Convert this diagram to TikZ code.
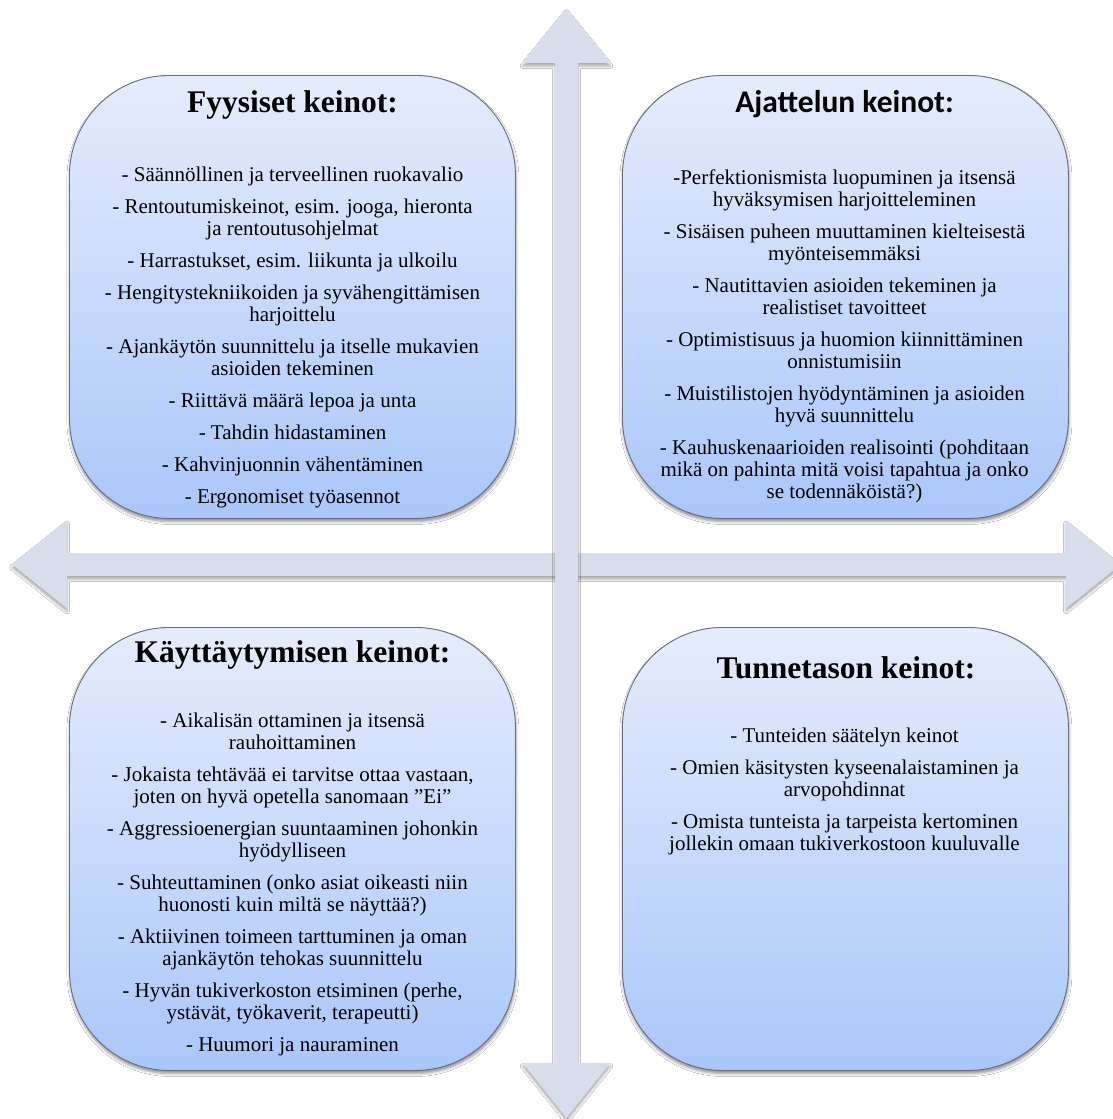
\documentclass[tikz,border=0pt]{standalone}
\usepackage{fontspec}
\setmainfont{Liberation Serif}
\newfontfamily\calibrifont{Carlito}
\usetikzlibrary{shadows,shadows.blur}
\definecolor{boxtop}{RGB}{229,236,252}
\definecolor{boxbot}{RGB}{170,199,250}
\definecolor{boxline}{RGB}{105,110,122}
\definecolor{arrowfill}{RGB}{215,221,234}
\tikzset{
  quadbox/.style={rectangle, rounded corners=100bp, minimum width=446bp, minimum height=443bp,
    anchor=north west, inner sep=0pt, draw=boxline, line width=0.9bp,
    top color=boxtop, bottom color=boxbot,
    blur shadow={shadow xshift=0.5bp, shadow yshift=-3bp, shadow blur radius=3bp, shadow opacity=45}},
  quadtitle/.style={anchor=base, inner sep=0pt, font=\fontsize{31.5bp}{34bp}\selectfont\bfseries},
  quadbody/.style={anchor=north, inner sep=0pt, align=center, font=\fontsize{21bp}{22bp}\selectfont},
  bigarrow/.style={fill=arrowfill, draw=none,
    blur shadow={shadow xshift=0bp, shadow yshift=-3bp, shadow blur radius=2.5bp, shadow opacity=35}}
}
\begin{document}
\begin{tikzpicture}[x=1bp,y=-1bp]
\useasboundingbox (0,0) rectangle (1113,1119);
\fill[white] (0,0) rectangle (1113,1119);
\clip (0,0) rectangle (1113,1119);
% arrows
\path[bigarrow] (12,564.5) -- (67,520.5) -- (67,553) -- (1066,553) -- (1066,520.5) -- (1121,564.5)
  -- (1066,608.5) -- (1066,576) -- (67,576) -- (67,608.5) -- cycle;
\path[bigarrow] (566.5,9) -- (610.5,63) -- (578,63) -- (578,1063) -- (610.5,1063) -- (566.5,1118)
  -- (522.5,1063) -- (555,1063) -- (555,63) -- (522.5,63) -- cycle;
% boxes
\node[quadbox] (bTL) at (69,75) {};
\node[quadbox] (bTR) at (622,75) {};
\node[quadbox] (bBL) at (69,627) {};
\node[quadbox] (bBR) at (622,627) {};
% titles
\node[quadtitle] (tTL) at (292.5,112) {Fyysiset keinot:};
\node[quadtitle, font=\fontsize{31.5bp}{34bp}\selectfont\calibrifont\bfseries] (tTR) at (844.5,112) {Ajattelun keinot:};
\node[quadtitle] (tBL) at (292.5,662) {Käyttäytymisen keinot:};
\node[quadtitle] (tBR) at (846,678) {Tunnetason keinot:};
% bodies
\node[quadbody] (xTL) at (292.5,165.6) {\strut- Säännöllinen ja terveellinen ruokavalio\\[10bp]
- Rentoutumiskeinot, esim. jooga, hieronta\\ ja rentoutusohjelmat\\[10bp]
- Harrastukset, esim. liikunta ja ulkoilu\\[10bp]
- Hengitystekniikoiden ja syvähengittämisen\\ harjoittelu\\[10bp]
- Ajankäytön suunnittelu ja itselle mukavien\\ asioiden tekeminen\\[10bp]
- Riittävä määrä lepoa ja unta\\[10bp]
- Tahdin hidastaminen\\[10bp]
- Kahvinjuonnin vähentäminen\\[10bp]
- Ergonomiset työasennot};
\node[quadbody] (xTR) at (844.5,168.6) {\strut-Perfektionismista luopuminen ja itsensä\\ hyväksymisen harjoitteleminen\\[10bp]
- Sisäisen puheen muuttaminen kielteisestä\\ myönteisemmäksi\\[10bp]
- Nautittavien asioiden tekeminen ja\\ realistiset tavoitteet\\[10bp]
- Optimistisuus ja huomion kiinnittäminen\\ onnistumisiin\\[10bp]
- Muistilistojen hyödyntäminen ja asioiden\\ hyvä suunnittelu\\[10bp]
- Kauhuskenaarioiden realisointi (pohditaan\\ mikä on pahinta mitä voisi tapahtua ja onko\\ se todennäköistä?)};
\node[quadbody] (xBL) at (292.5,711.6) {\strut- Aikalisän ottaminen ja itsensä\\ rauhoittaminen\\[10bp]
- Jokaista tehtävää ei tarvitse ottaa vastaan,\\ joten on hyvä opetella sanomaan ”Ei”\\[10bp]
- Aggressioenergian suuntaaminen johonkin\\ hyödylliseen\\[10bp]
- Suhteuttaminen (onko asiat oikeasti niin\\ huonosti kuin miltä se näyttää?)\\[10bp]
- Aktiivinen toimeen tarttuminen ja oman\\ ajankäytön tehokas suunnittelu\\[10bp]
- Hyvän tukiverkoston etsiminen (perhe,\\ ystävät, työkaverit, terapeutti)\\[10bp]
- Huumori ja nauraminen};
\node[quadbody] (xBR) at (844.5,726.6) {\strut- Tunteiden säätelyn keinot\\[10bp]
- Omien käsitysten kyseenalaistaminen ja\\ arvopohdinnat\\[10bp]
- Omista tunteista ja tarpeista kertominen\\ jollekin omaan tukiverkostoon kuuluvalle};
\end{tikzpicture}
\end{document}
